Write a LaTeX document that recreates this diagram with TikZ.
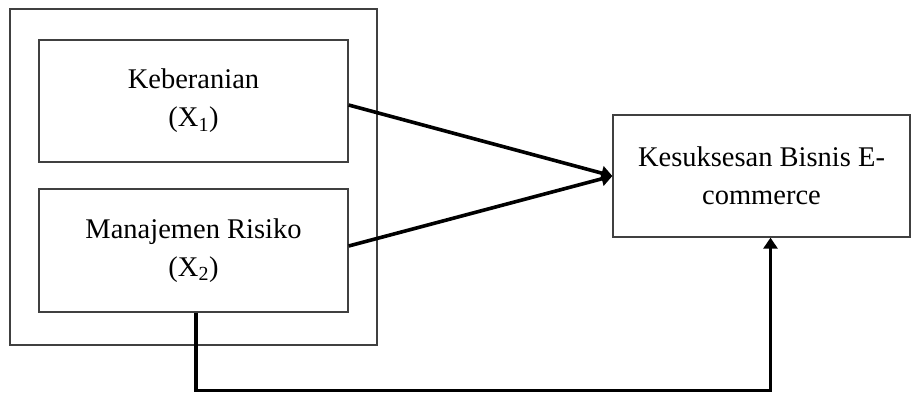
\documentclass[tikz,border=0pt]{standalone}
\usepackage{fontspec}
\setmainfont{Liberation Serif}
\usepackage{tikz}
\usetikzlibrary{arrows.meta,calc}

\begin{document}
\begin{tikzpicture}[x=1pt, y=-1pt,
  varbox/.style={draw=black!75, line width=1.3pt, align=center, inner sep=0pt,
    font=\fontsize{28.5}{38}\selectfont},
  conn/.style={line width=3.6pt, -{Triangle[width=14pt,length=11pt]}}]
\useasboundingbox (0,0) rectangle (912,394);
% outer frame round the two independent variables
\node[draw=black!75, line width=1.3pt, minimum width=367pt, minimum height=336pt] (outer) at (193.5,177) {};
\node[varbox, minimum width=309pt, minimum height=122pt] (x1box) at (193.5,101) {Keberanian\\(X\textsubscript{1})};
\node[varbox, minimum width=309pt, minimum height=123pt] (x2box) at (193.5,250.5) {Manajemen Risiko\\(X\textsubscript{2})};
\node[varbox, minimum width=297pt, minimum height=122pt] (ybox) at (761.5,176) {Kesuksesan Bisnis E-\\commerce};
% arrows
\draw[conn] ([yshift=-4pt]x1box.east) -- (ybox.west);
\draw[conn] ([yshift=4.5pt]x2box.east) -- (ybox.west);
\draw[conn] ([xshift=2.5pt]x2box.south) -- ++(0,78) -| ([xshift=9pt]ybox.south);
\end{tikzpicture}
\end{document}
